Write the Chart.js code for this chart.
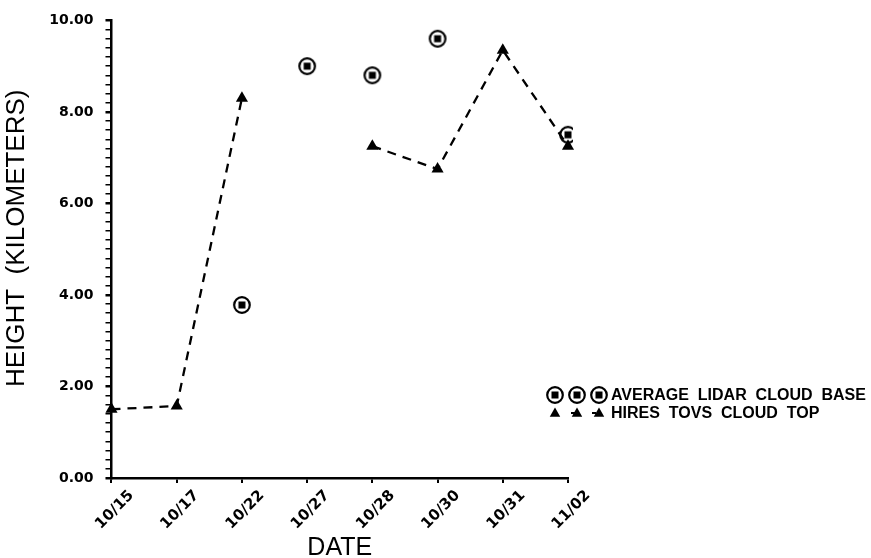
<!DOCTYPE html>
<html>
<head>
<meta charset="utf-8">
<script src="https://cdn.jsdelivr.net/npm/chart.js@4"></script>
<style>
  html, body { margin: 0; padding: 0; background: #fff; }
  #wrap { width: 871px; height: 558px; }
</style>
</head>
<body>
<div id="wrap"><canvas id="chart"></canvas></div>
<script>
// data
const dates = ['10/15', '10/17', '10/22', '10/27', '10/28', '10/30', '10/31', '11/02'];
const lidarBase = [null, null, 3.78, 9.0, 8.8, 9.6, null, 7.5];
const tovsTop = [1.5, 1.57, 8.3, null, 7.25, 6.75, 9.35, 7.25];
const legendLabels = ['AVERAGE  LIDAR  CLOUD  BASE', 'HIRES  TOVS  CLOUD  TOP'];

// circle with a square in the middle
function makeRingSquare() {
    const c = document.createElement('canvas');
    c.width = 20; c.height = 20;
    const g = c.getContext('2d');
    g.strokeStyle = '#000';
    g.lineWidth = 2.2;
    g.beginPath();
    g.arc(10, 10, 7.8, 0, Math.PI * 2);
    g.stroke();
    g.fillStyle = '#000';
    g.fillRect(6.5, 6.5, 7, 7);
    return c;
}
const ringSquare = makeRingSquare();

function drawTriangle(ctx, x, y, r) {
    ctx.beginPath();
    ctx.moveTo(x, y - r);
    ctx.lineTo(x + r * 0.95, y + r * 0.7);
    ctx.lineTo(x - r * 0.95, y + r * 0.7);
    ctx.closePath();
    ctx.fill();
}

// legend drawn next to the plot, like the original figure
const sideLegend = {
    id: 'sideLegend',
    afterDraw(chart) {
        const ctx = chart.ctx;
        const x0 = chart.chartArea.right - 13;
        const y1 = 395, y2 = 413;
        ctx.save();
        ctx.fillStyle = '#000';
        ctx.strokeStyle = '#000';
        [0, 22, 44].forEach(dx => ctx.drawImage(ringSquare, x0 + dx - 10, y1 - 10));
        ctx.lineWidth = 2;
        ctx.beginPath();
        ctx.moveTo(x0 + 16, y2); ctx.lineTo(x0 + 20, y2);
        ctx.moveTo(x0 + 37, y2); ctx.lineTo(x0 + 41, y2);
        ctx.stroke();
        [0, 22, 44].forEach(dx => drawTriangle(ctx, x0 + dx, y2, 5.5));
        ctx.font = 'bold 16px "Liberation Sans"';
        ctx.textBaseline = 'middle';
        ctx.textAlign = 'left';
        ctx.fillText(legendLabels[0], x0 + 56, y1 + 1);
        ctx.fillText(legendLabels[1], x0 + 56, y2 + 1);
        ctx.restore();
    }
};

const tickFont = { family: '"DejaVu Sans"', size: 14, weight: 'bold' };
const isMajor = v => Math.abs(v / 2 - Math.round(v / 2)) < 1e-6;

new Chart(document.getElementById('chart'), {
    type: 'line',
    data: {
        labels: dates,
        datasets: [
            {
                label: 'HIRES TOVS CLOUD TOP',
                data: tovsTop,
                borderColor: '#000',
                backgroundColor: '#000',
                borderWidth: 2.3,
                borderDash: [9, 7],
                pointStyle: 'triangle',
                pointRadius: 7,
                pointBorderWidth: 0,
                spanGaps: false,
                tension: 0
            },
            {
                label: 'AVERAGE LIDAR CLOUD BASE',
                data: lidarBase,
                showLine: false,
                pointStyle: ringSquare,
                borderColor: '#000',
                backgroundColor: '#000'
            }
        ]
    },
    options: {
        responsive: true,
        maintainAspectRatio: false,
        animation: false,
        layout: {
            padding: { top: 9, right: 303, left: 1, bottom: -5 }
        },
        plugins: {
            legend: { display: false },
            tooltip: { enabled: false }
        },
        scales: {
            x: {
                offset: false,
                border: { color: '#000', width: 2.5 },
                grid: { drawOnChartArea: false, color: '#000', tickLength: 5, lineWidth: 2 },
                ticks: {
                    color: '#000',
                    minRotation: 45,
                    maxRotation: 45,
                    padding: 4,
                    labelOffset: 20,
                    font: { ...tickFont, size: 15 }
                },
                title: {
                    display: true,
                    text: 'DATE',
                    color: '#000',
                    padding: { top: -4, bottom: 0 },
                    font: { family: '"Liberation Sans"', size: 25 }
                }
            },
            y: {
                min: 0,
                max: 10,
                border: { color: '#000', width: 2.5 },
                grid: {
                    drawOnChartArea: false,
                    color: '#000',
                    tickLength: 6,
                    lineWidth: ctx => (ctx.tick && isMajor(ctx.tick.value)) ? 2.5 : 1.5
                },
                ticks: {
                    stepSize: 0.2,
                    autoSkip: false,
                    maxTicksLimit: 100,
                    color: '#000',
                    padding: 12,
                    font: tickFont,
                    callback: v => isMajor(v) ? v.toFixed(2) : ''
                },
                title: {
                    display: true,
                    // leading spaces nudge the title up a little, as in the original
                    text: '   HEIGHT  (KILOMETERS)',
                    color: '#000',
                    padding: { top: 0, bottom: 5 },
                    font: { family: '"Liberation Sans"', size: 26 }
                }
            }
        }
    },
    plugins: [sideLegend]
});
</script>
</body>
</html>
